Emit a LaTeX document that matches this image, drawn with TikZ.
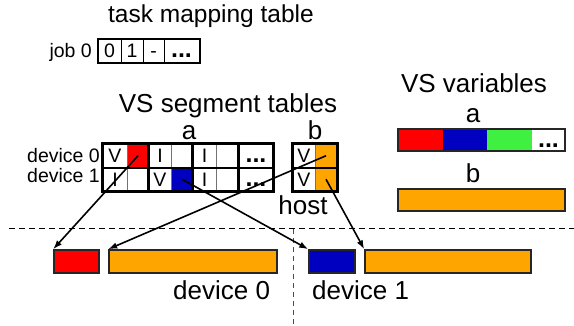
\documentclass[tikz,border=0pt]{standalone}
\usepackage{fontspec}
\setmainfont{Liberation Sans}
\usetikzlibrary{arrows.meta}
\definecolor{segred}{RGB}{255,0,0}
\definecolor{segblue}{RGB}{0,0,192}
\definecolor{seggreen}{RGB}{64,240,64}
\definecolor{segorange}{RGB}{255,165,0}
\newcommand{\celldots}{{\fontsize{25}{28}\selectfont\textbf{...}}}

\begin{document}
\begin{tikzpicture}[x=1pt,y=-1pt,
  big/.style={font=\fontsize{26}{30}\selectfont, inner sep=0pt, anchor=base},
  title/.style={font=\fontsize{24.5}{28}\selectfont, inner sep=0pt, anchor=base},
  small/.style={font=\fontsize{19.5}{22}\selectfont, inner sep=0pt, anchor=base},
  cell/.style n args={2}{draw=black!55, line width=0.8pt, inner sep=0pt,
    minimum width=#1, minimum height=#2, text height=14pt, text depth=0pt,
    font=\fontsize{19.5}{22}\selectfont},
  tcell/.style={draw=black, line width=1pt, inner sep=0pt,
    minimum width=#1, minimum height=23pt, text height=14pt, text depth=0pt,
    font=\fontsize{19.5}{22}\selectfont},
  thick frame/.style={line width=2.6pt},
  membox/.style={draw=black!85, line width=1.6pt},
  link/.style={line width=1.6pt, -{Latex[length=9pt,width=6.5pt]}},
  divider/.style={line width=1pt, dash pattern=on 6pt off 4pt},
  split/.style={line width=0.9pt, black!70, dash pattern=on 5pt off 4pt}]

\useasboundingbox (0,0) rectangle (574,326);

% ---- task mapping table ----
\node[title] (tmtitle) at (211,23) {task mapping table};
\node[small, anchor=base east] (job) at (92,58) {job 0};
\node[tcell=23pt] (t0) at (109.5,51) {0};
\node[tcell=22pt] (t1) at (132,51) {1};
\node[tcell=21pt] (t2) at (153.5,51) {-};
\node[tcell=35pt] (t3) at (181.5,51) {\celldots};
\draw[line width=2pt] (t0.north west) rectangle (t3.south east);

% ---- VS segment tables ----
\node[big] (segtitle) at (228,113) {VS segment tables};
\node[big] (sega) at (189,140) {a};
\node[big] (segb) at (315,140) {b};
\node[small, anchor=base east] (dev0lab) at (100,163) {device 0};
\node[small, anchor=base east] (dev1lab) at (100,183) {device 1};

% table a, row of device 0
\node[cell={24pt}{23.5pt}] (a00) at (115,155.75) {V};
\node[cell={22pt}{23.5pt}, fill=segred] (a01) at (138,155.75) {};
\node[cell={22pt}{23.5pt}] (a02) at (160,155.75) {I};
\node[cell={22pt}{23.5pt}] (a03) at (182,155.75) {};
\node[cell={23pt}{23.5pt}] (a04) at (204.5,155.75) {I};
\node[cell={23pt}{23.5pt}] (a05) at (227.5,155.75) {};
\node[cell={34pt}{23.5pt}] (a06) at (256,155.75) {\celldots};
% table a, row of device 1
\node[cell={24pt}{23.5pt}] (a10) at (115,179.25) {I};
\node[cell={22pt}{23.5pt}] (a11) at (138,179.25) {};
\node[cell={22pt}{23.5pt}] (a12) at (160,179.25) {V};
\node[cell={22pt}{23.5pt}, fill=segblue] (a13) at (182,179.25) {};
\node[cell={23pt}{23.5pt}] (a14) at (204.5,179.25) {I};
\node[cell={23pt}{23.5pt}] (a15) at (227.5,179.25) {};
\node[cell={34pt}{23.5pt}] (a16) at (256,179.25) {\celldots};
% table a, frame and group lines
\draw[thick frame] (a00.north west) rectangle (a16.south east);
\draw[thick frame] (a00.south west) -- (a06.south east);
\draw[thick frame] (a02.north west) -- (a12.south west);
\draw[thick frame] (a04.north west) -- (a14.south west);
\draw[thick frame] (a06.north west) -- (a16.south west);

% table b
\node[cell={22pt}{23.5pt}] (b00) at (304,155.75) {V};
\node[cell={22pt}{23.5pt}, fill=segorange] (b01) at (326,155.75) {};
\node[cell={22pt}{23.5pt}] (b10) at (304,179.25) {V};
\node[cell={22pt}{23.5pt}, fill=segorange] (b11) at (326,179.25) {};
\draw[thick frame] (b00.north west) rectangle (b11.south east);
\draw[thick frame] (b00.south west) -- (b01.south east);

\node[big] (host) at (303,215) {host};

% ---- VS variables ----
\node[big] (vartitle) at (474,93) {VS variables};
\node[big] (vara) at (473,123) {a};
\node[big] (varb) at (473,183) {b};
\fill[segred] (398,129) rectangle (443,151);
\fill[segblue] (443,129) rectangle (487,151);
\fill[seggreen] (487,129) rectangle (532,151);
\node[inner sep=0pt, text height=14pt, text depth=0pt] (vadots) at (548.5,141) {\celldots};
\draw[membox] (398,129) rectangle (565,151);
\draw[membox, fill=segorange] (398,189) rectangle (565,211);

% ---- host / device boundaries ----
\coordinate (hl) at (9,229);
\coordinate (hr) at (574,229);
\coordinate (vt) at (293,229);
\coordinate (vb) at (293,326);
\draw[divider] (hl) -- (hr);
\draw[split] (vt) -- (vb);

% ---- device memory ----
\node[membox, fill=segred, minimum width=45pt, minimum height=23pt, inner sep=0pt] (d0a) at (76.5,261.5) {};
\node[membox, fill=segorange, minimum width=168pt, minimum height=23pt, inner sep=0pt] (d0b) at (193,261.5) {};
\node[membox, fill=segblue, minimum width=46pt, minimum height=23pt, inner sep=0pt] (d1a) at (332,261.5) {};
\node[membox, fill=segorange, minimum width=166pt, minimum height=23pt, inner sep=0pt] (d1b) at (448,261.5) {};
\node[big, anchor=base west] (dev0) at (173,300) {device 0};
\node[big, anchor=base west] (dev1) at (312,300) {device 1};

% ---- segment links ----
\draw[link] (a01.center) -- (d0a.north west);
\draw[link] (b01.center) -- (d0b.north west);
\draw[link] (a13.center) -- (d1a.north west);
\draw[link] (b11.center) -- (d1b.north west);
\end{tikzpicture}
\end{document}
